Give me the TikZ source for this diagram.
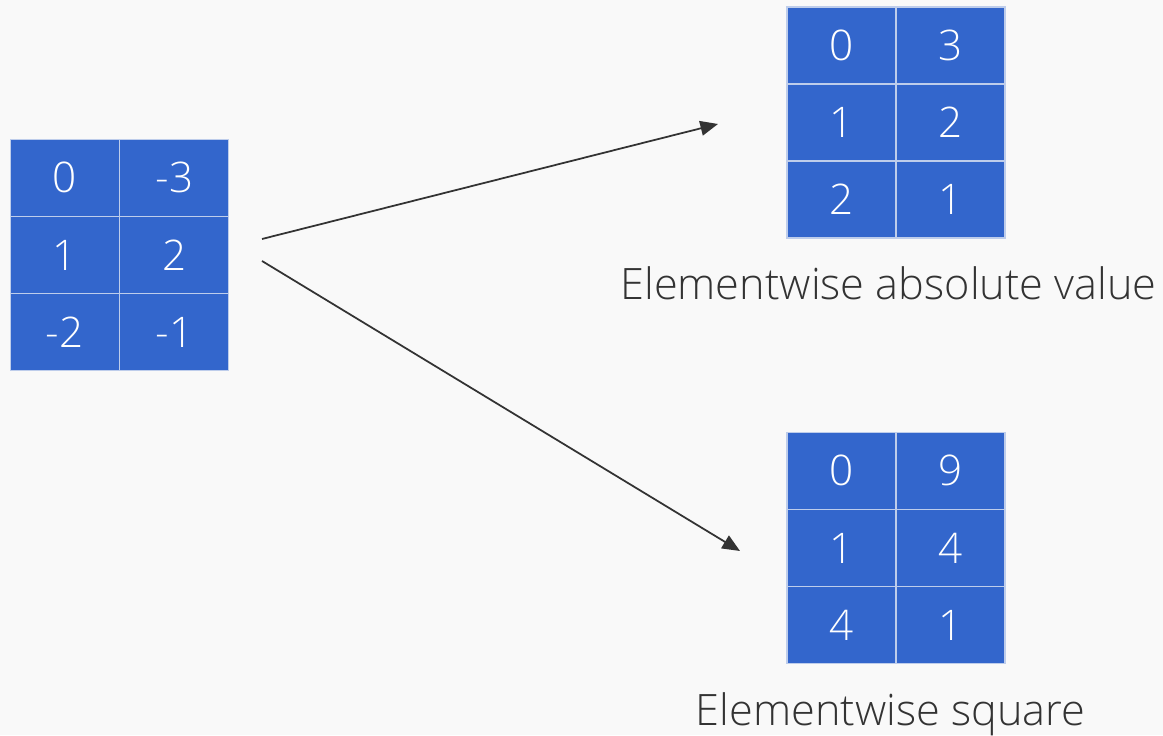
\documentclass[tikz,border=0pt]{standalone}
\usepackage{fontspec}
\setmainfont{Open Sans Light}
\usetikzlibrary{arrows.meta}
\definecolor{cellblue}{RGB}{51,102,204}
\definecolor{cellline}{RGB}{190,205,235}
\definecolor{bgcolor}{RGB}{249,249,249}
\definecolor{inkgray}{RGB}{51,51,51}
\tikzset{
  cell/.style={draw=cellline, line width=0.35pt, fill=cellblue, text=white,
    minimum width=1.09cm, minimum height=0.77cm, inner sep=0pt,
    font=\fontsize{12}{13}\selectfont},
  caption/.style={text=inkgray, inner sep=0pt, font=\fontsize{12.3}{14}\selectfont},
  mapsto/.style={inkgray, line width=0.5pt, -{Triangle[length=5pt,width=4.2pt]}}
}
\begin{document}
\begin{tikzpicture}[x=0.01cm, y=-0.01cm]
\fill [bgcolor] (0,0) rectangle (1163,735);
% input matrix
\node [cell] (a11) at (64.75,177.7) {0};
\node [cell] (a12) at (174.25,177.7) {-3};
\node [cell] (a21) at (64.75,255) {1};
\node [cell] (a22) at (174.25,255) {2};
\node [cell] (a31) at (64.75,332.3) {-2};
\node [cell] (a32) at (174.25,332.3) {-1};
% absolute value
\node [cell] (b11) at (841.5,45.5) {0};
\node [cell] (b12) at (950.5,45.5) {3};
\node [cell] (b21) at (841.5,122.5) {1};
\node [cell] (b22) at (950.5,122.5) {2};
\node [cell] (b31) at (841.5,199.5) {2};
\node [cell] (b32) at (950.5,199.5) {1};
\node [caption] (abslabel) at (888.5,283) {Elementwise absolute value};
% square
\node [cell] (c11) at (841.5,470.7) {0};
\node [cell] (c12) at (950.5,470.7) {9};
\node [cell] (c21) at (841.5,548) {1};
\node [cell] (c22) at (950.5,548) {4};
\node [cell] (c31) at (841.5,625.3) {4};
\node [cell] (c32) at (950.5,625.3) {1};
\node [caption] (sqlabel) at (890.5,714) {Elementwise square};
% arrows
\coordinate (absfrom) at (262,239);
\coordinate (absto) at (718,124);
\coordinate (sqfrom) at (262,261);
\coordinate (sqto) at (740,551);
\draw [mapsto] (absfrom) -- (absto);
\draw [mapsto] (sqfrom) -- (sqto);
\end{tikzpicture}
\end{document}
